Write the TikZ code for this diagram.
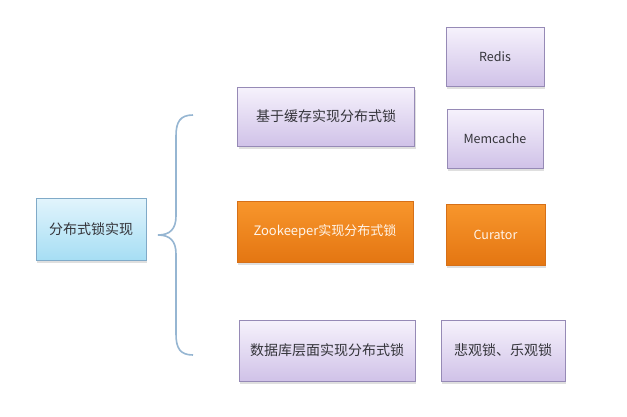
\documentclass[tikz,border=0pt]{standalone}
\usepackage{fontspec}
\setmainfont{Noto Sans CJK SC}
\usetikzlibrary{shadows}
\definecolor{lockInk}{RGB}{52,52,58}
\definecolor{lilacTop}{RGB}{246,242,252}
\definecolor{lilacBot}{RGB}{208,194,232}
\definecolor{lilacEdge}{RGB}{150,138,182}
\definecolor{zooTop}{RGB}{248,150,44}
\definecolor{zooBot}{RGB}{228,118,18}
\definecolor{zooEdge}{RGB}{214,112,24}
\definecolor{rootTop}{RGB}{226,244,252}
\definecolor{rootBot}{RGB}{166,222,244}
\definecolor{rootEdge}{RGB}{128,170,200}
\definecolor{braceLine}{RGB}{150,182,210}
\begin{document}
\begin{tikzpicture}[x=1pt,y=-1pt,
  lockbox/.style={draw, line width=0.8pt, align=center, inner sep=0pt,
     font=\fontsize{14}{16}\selectfont, text=lockInk,
     drop shadow={shadow xshift=1pt, shadow yshift=-2.5pt, opacity=0.25}},
  lilac/.style={lockbox, top color=lilacTop, bottom color=lilacBot, draw=lilacEdge},
  zoo/.style={lockbox, top color=zooTop, bottom color=zooBot, draw=zooEdge, text=white!92!orange},
  rootbox/.style={lockbox, top color=rootTop, bottom color=rootBot, draw=rootEdge},
  latin/.style={font=\fontsize{12.5}{15}\selectfont}]
  \fill[white] (0,0) rectangle (627,416);
  \node[rootbox, minimum width=110pt, minimum height=62pt] (root) at (91,229) {分布式锁实现};
  \node[lilac, minimum width=177pt, minimum height=59pt] (cache) at (326,116.5) {基于缓存实现分布式锁};
  \node[lilac, latin, minimum width=98pt, minimum height=59pt] (redis) at (495,56.5) {Redis};
  \node[lilac, latin, minimum width=96pt, minimum height=59pt] (memc) at (495,138.5) {Memcache};
  \node[zoo, font=\fontsize{13}{15}\selectfont, minimum width=176pt, minimum height=61pt] (zk) at (325,231.5) {Zookeeper实现分布式锁};
  \node[zoo, latin, minimum width=99pt, minimum height=61pt] (curator) at (495.5,234.5) {Curator};
  \node[lilac, minimum width=176pt, minimum height=61pt] (db) at (327,350.5) {数据库层面实现分布式锁};
  \node[lilac, minimum width=124pt, minimum height=61pt] (pess) at (503,350.5) {悲观锁、乐观锁};
  % brace
  \coordinate (btop) at (193,115);
  \coordinate (btip) at (158,235);
  \coordinate (bbot) at (193,355);
  \draw[braceLine, line width=1.6pt]
    (btop) .. controls (180,115) and (176,122) .. (176,136) -- (176,216)
    .. controls (176,229) and (170,235) .. (btip)
    .. controls (170,235) and (176,241) .. (176,254) -- (176,334)
    .. controls (176,348) and (180,355) .. (bbot);
\end{tikzpicture}
\end{document}
